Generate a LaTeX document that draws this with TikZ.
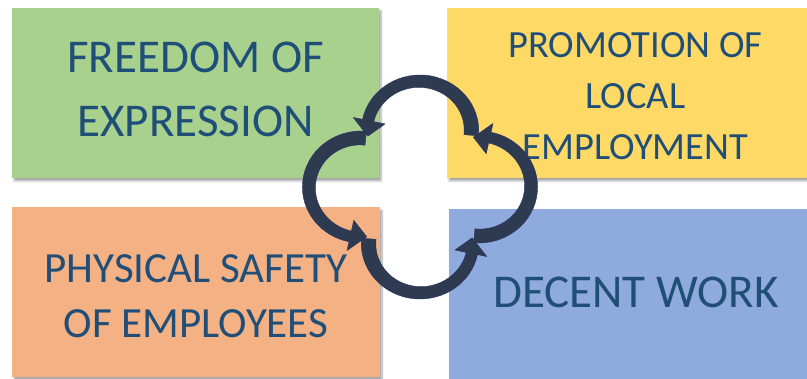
\documentclass[tikz,border=0pt]{standalone}
\usepackage{fontspec}
\setmainfont{Carlito}
\usetikzlibrary{shadows.blur}
\definecolor{boxgreen}{HTML}{A9D18E}
\definecolor{boxyellow}{HTML}{FFD966}
\definecolor{boxorange}{HTML}{F4B183}
\definecolor{boxblue}{HTML}{8FAADC}
\definecolor{labelblue}{HTML}{1F4E79}
\definecolor{arrownavy}{HTML}{2E3A4F}

\begin{document}
\begin{tikzpicture}[x=1pt,y=1pt,
  topic/.style={rectangle, inner sep=0pt, minimum height=170pt,
    blur shadow={shadow xshift=2pt, shadow yshift=-3pt,
      shadow blur steps=6, shadow opacity=35}},
  topic text/.style={inner sep=0pt, text=labelblue, align=center},
  cycle arrow/.style={fill=arrownavy, draw=arrownavy!85!blue,
    line width=0.4pt, line join=round}]
  \path[use as bounding box, clip] (0,0) rectangle (807,-379);

  % the four topic boxes
  \node[topic, fill=boxgreen, minimum width=367pt] (freedom) at (195.5,-93) {};
  \node[topic, fill=boxyellow, minimum width=377pt] (local) at (635.5,-93) {};
  \node[topic, fill=boxorange, minimum width=368pt] (safety) at (196,-292) {};
  \node[topic, fill=boxblue, minimum width=375pt] (decent) at (636,-294) {};

  % their texts
  \node[topic text, font=\fontsize{47}{64}\selectfont] (freedom text)
    at ([yshift=4pt]freedom.center) {FREEDOM OF\\EXPRESSION};
  \node[topic text, font=\fontsize{38.5}{51}\selectfont] (local text)
    at ([yshift=-3pt]local.center) {PROMOTION OF\\LOCAL\\EMPLOYMENT};
  \node[topic text, font=\fontsize{43}{55}\selectfont] (safety text)
    at ([yshift=-4pt]safety.center) {PHYSICAL SAFETY\\OF EMPLOYEES};
  \node[topic text, font=\fontsize{47}{64}\selectfont] (decent text)
    at ([yshift=2pt]decent.center) {DECENT WORK};

  % curved arrows going round the middle
  \begin{scope}[shift={(420,-187)}, xscale=1.05, shift={(-420,187)}]
  \foreach \cx/\cy/\rot in {420/-131/0, 364/-187/90, 420/-243/180, 476/-187/270}
    \path[cycle arrow, shift={(\cx,\cy)}, rotate=\rot]
      (-5:42) -- (-5:56) arc[start angle=-5, end angle=168, radius=56]
      -- (168:65) -- (186:50) -- (168:34) -- (168:45)
      -- plot[domain=168:-5, samples=40] (\x:{42+3*(\x+5)/173}) -- cycle;
  \end{scope}
\end{tikzpicture}
\end{document}
